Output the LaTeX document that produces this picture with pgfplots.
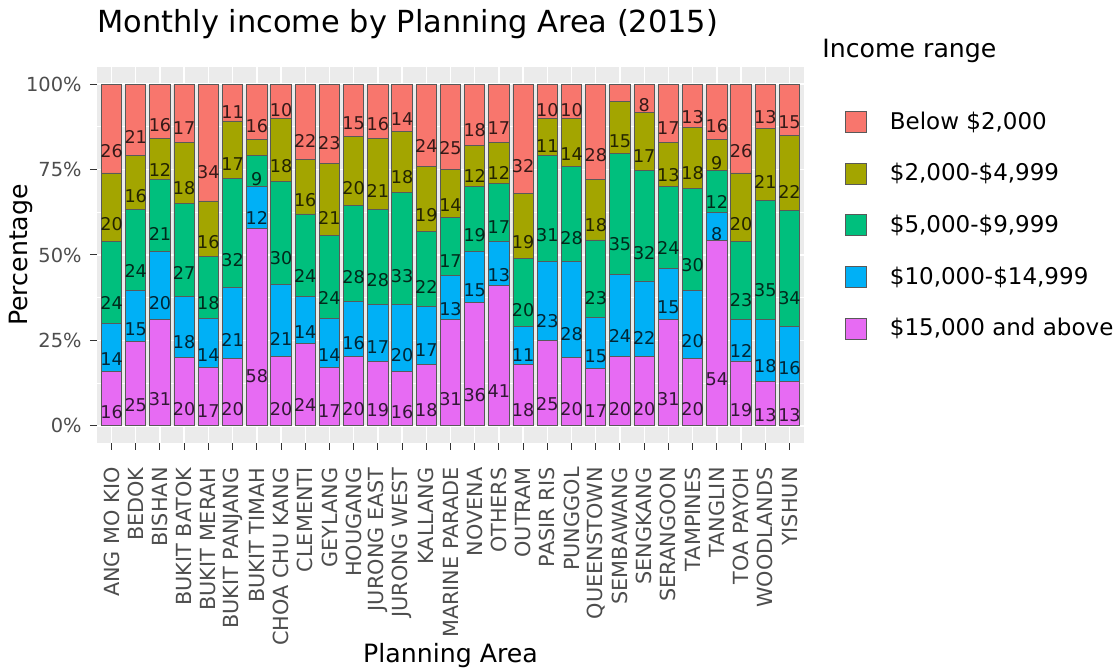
\documentclass[border=0pt]{standalone}
\usepackage{fontspec}
\setmainfont{DejaVu Sans}
\usepackage{pgfplots}
\usepackage{pgfplotstable}
\pgfplotsset{compat=1.18}

\definecolor{cLow}{HTML}{F8766D}
\definecolor{cTwo}{HTML}{A3A500}
\definecolor{cFive}{HTML}{00BF7D}
\definecolor{cTen}{HTML}{00B0F6}
\definecolor{cTop}{HTML}{E76BF3}
\definecolor{panelbg}{HTML}{EBEBEB}
\definecolor{tickgray}{HTML}{4D4D4D}
\definecolor{tickdark}{HTML}{333333}

% share of households per income band, bottom band first
\pgfplotstableread{
i  p15  p10  p5   p2   p0
1  16   14   24   20   26
2  24.7 14.8 23.8 15.9 20.8
3  31   20   21   12   16
4  20   18   27   18   17
5  17.2 14.2 18.2 16.2 34.2
6  19.8 20.8 31.8 16.8 10.8
7  57.8 12.2 9.2  4.6  16.2
8  20.2 21.2 30.2 18.2 10.2
9  24   14   24   16   22
10 17.2 14.2 24.2 21.2 23.2
11 20.2 16.2 28.2 20.2 15.2
12 18.8 16.8 27.8 20.8 15.8
13 15.8 19.8 32.8 17.8 13.8
14 18   17   22   19   24
15 31   13   17   14   25
16 36   15   19   12   18
17 41   13   17   12   17
18 18   11   20   19   32
19 25   23   31   11   10
20 20   28   28   14   10
21 16.8 14.8 22.8 17.8 27.8
22 20.2 24.2 35.2 15.2 5.2
23 20.2 22.2 32.2 17.2 8.2
24 31   15   24   13   17
25 19.8 19.8 29.8 17.8 12.8
26 54.2 8.2  12.2 9.2  16.2
27 19   12   23   20   26
28 13   18   35   21   13
29 13   16   34   22   15
}\incometable

\pgfplotsset{
  segbox/.style={
    draw=black!65, line width=0.45pt,
    legend image code/.code={
      \draw[##1, draw=black!65, line width=0.45pt] (0pt,-5.25pt) rectangle (10.5pt,5.25pt);
    },
  },
}

\begin{document}
\begin{tikzpicture}
\useasboundingbox (-48.5pt,-114.5pt) rectangle (511pt,221.5pt);
\begin{axis}[
  at={(0,0)}, anchor=south west,
  scale only axis,
  width=353.5pt, height=188pt,
  clip mode=individual,
  ybar stacked,
  bar width=0.84,
  xmin=0.4, xmax=29.6,
  ymin=-5, ymax=105,
  enlargelimits=false,
  axis background/.style={fill=panelbg},
  axis line style={draw=none},
  xmajorgrids, ymajorgrids, yminorgrids,
  major grid style={white, line width=0.7pt},
  minor grid style={white, line width=0.35pt},
  tick align=outside, tick pos=left,
  major tick length=3.5pt, minor tick length=0pt,
  tick style={tickdark, line width=0.5pt},
  xtick={1,...,29},
  xticklabels={ANG MO KIO,BEDOK,BISHAN,BUKIT BATOK,BUKIT MERAH,BUKIT PANJANG,
    BUKIT TIMAH,CHOA CHU KANG,CLEMENTI,GEYLANG,HOUGANG,JURONG EAST,JURONG WEST,
    KALLANG,MARINE PARADE,NOVENA,OTHERS,OUTRAM,PASIR RIS,PUNGGOL,QUEENSTOWN,
    SEMBAWANG,SENGKANG,SERANGOON,TAMPINES,TANGLIN,TOA PAYOH,WOODLANDS,YISHUN},
  xticklabel style={rotate=90, anchor=east, inner sep=0pt, text=tickgray,
    font=\fontsize{10.4}{12}\selectfont},
  xticklabel shift=8.5pt,
  ytick={0,25,50,75,100},
  minor ytick={12.5,37.5,62.5,87.5},
  yticklabels={0\%,25\%,50\%,75\%,100\%},
  yticklabel style={anchor=east, inner sep=0pt, text=tickgray,
    font=\fontsize{9.7}{12}\selectfont},
  yticklabel shift=4pt,
  xlabel={Planning Area},
  ylabel={Percentage},
  xlabel style={at={(axis description cs:0.5,-0.585)}, anchor=base, inner sep=0pt,
    font=\fontsize{12.6}{15}\selectfont},
  ylabel style={at={(axis description cs:-0.0976,0.5)}, anchor=base, inner sep=0pt,
    font=\fontsize{12.6}{15}\selectfont},
  visualization depends on={rawy \as \segv},
  nodes near coords={\pgfmathparse{\segv<6.5 ? 0 : 1}%
    \ifnum\pgfmathresult=1 \pgfmathprintnumber[fixed,precision=0,
      /pgf/number format/assume math mode=true]{\segv}\fi},
  every node near coord/.append style={anchor=center, inner sep=0pt,
    yshift={-0.4272725*\segv*1pt}, text opacity=0.78,
    font=\fontsize{8.8}{10}\selectfont},
  reverse legend,
  legend cell align=left,
  legend style={at={(axis description cs:1.058,0.892)}, anchor=north west,
    draw=none, fill=none, inner sep=0pt, outer sep=0pt,
    row sep=11.6pt, column sep=9.5pt,
    font=\fontsize{11.5}{14}\selectfont},
]
\addplot[segbox, fill=cTop]  table[x=i, y=p15] {\incometable};
\addlegendentry{\$15,000 and above}
\addplot[segbox, fill=cTen]  table[x=i, y=p10] {\incometable};
\addlegendentry{\$10,000-\$14,999}
\addplot[segbox, fill=cFive] table[x=i, y=p5]  {\incometable};
\addlegendentry{\$5,000-\$9,999}
\addplot[segbox, fill=cTwo]  table[x=i, y=p2]  {\incometable};
\addlegendentry{\$2,000-\$4,999}
\addplot[segbox, fill=cLow]  table[x=i, y=p0]  {\incometable};
\addlegendentry{Below \$2,000}

\node[anchor=base west, inner sep=0pt, font=\fontsize{15.2}{18}\selectfont]
  at (axis description cs:0,1.0904) {Monthly income by Planning Area (2015)};
\node[anchor=base west, inner sep=0pt, font=\fontsize{12.6}{15}\selectfont]
  at (axis description cs:1.0255,1.024) {Income range};
\end{axis}
\end{tikzpicture}
\end{document}
